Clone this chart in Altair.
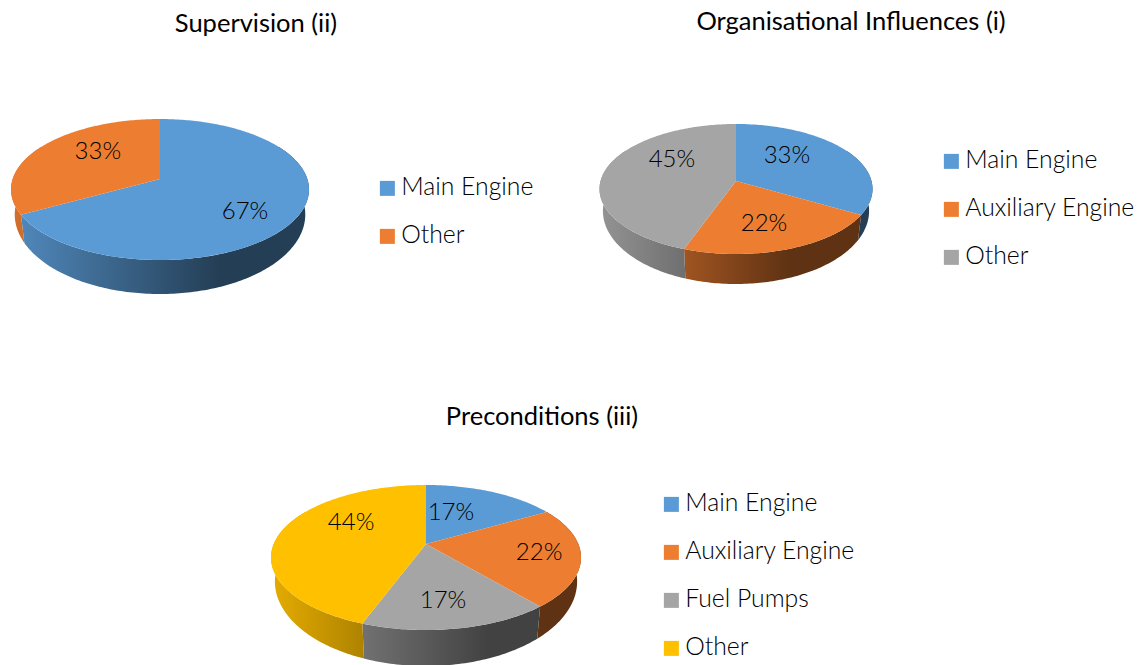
import math
import altair as alt
import pandas as pd

FONT = "Lato"
TEXT = "#000000"
BLUE, ORANGE, GRAY, YELLOW = "#5B9BD5", "#ED7D31", "#A5A5A5", "#FFC000"

sup_title = "Supervision (ii)"
sup_cats = ["Main Engine", "Other"]
sup_vals = [67, 33]
sup_text = ["67%", "33%"]
sup_cols = [BLUE, ORANGE]

org_title = "Organisational Influences (i)"
org_cats = ["Main Engine", "Auxiliary Engine", "Other"]
org_vals = [33.3, 22.2, 44.5]
org_text = ["33%", "22%", "45%"]
org_cols = [BLUE, ORANGE, GRAY]

pre_title = "Preconditions (iii)"
pre_cats = ["Main Engine", "Auxiliary Engine", "Fuel Pumps", "Other"]
pre_vals = [16.7, 22.2, 16.7, 44.4]
pre_text = ["17%", "22%", "17%", "44%"]
pre_cols = [BLUE, ORANGE, GRAY, YELLOW]


def scale_hex(c, f):
    r, g, b = [int(c[i:i + 2], 16) for i in (1, 3, 5)]
    return "#%02x%02x%02x" % (int(r * f), int(g * f), int(b * f))


def panel(title, cats, vals, texts, cols, geom, frame, size, title_shift, legend_xy,
          label_r, label_deg):
    cx, cy, half_w, back, front, d0, d1 = geom
    x0, x1, y0, y1 = frame
    k = (front - back) / (front + back)
    ry0 = back * (1 + k)
    rx0 = half_w * math.sqrt(1 - k * k)
    ellipse_mid = cy + (front - back) / 2
    ellipse_ry = (front + back) / 2

    def project(deg, f=1.0):
        a = math.radians(deg)
        t = -math.cos(a) * f
        w = 1 - k * t
        return cx + rx0 * math.sin(a) * f / w, cy + ry0 * t / w

    def lower(px, py):
        return (cx + (px - cx) * 0.975,
                py + d0 + d1 * (py - ellipse_mid) / ellipse_ry)

    xs = alt.X("x:Q", axis=None, scale=alt.Scale(domain=[x0, x1], nice=False, zero=False))
    ys = alt.Y("y:Q", axis=None, scale=alt.Scale(domain=[y1, y0], nice=False, zero=False))

    layers = []
    top_rows, label_rows = [], []
    start = 0.0
    total = sum(vals)
    for n, (cat, val, col) in enumerate(zip(cats, vals, cols)):
        end = start + 360.0 * val / total
        # top face
        rows = [(cx, cy)]
        steps = max(2, int(end - start) + 1)
        for j in range(steps + 1):
            rows.append(project(start + (end - start) * j / steps))
        rows.append((cx, cy))
        for i, (px, py) in enumerate(rows):
            top_rows.append({"cat": cat, "x": px, "y": py, "i": i})
        # side wall
        w0, w1 = max(start, 60), min(end, 300)
        if w1 > w0:
            steps = max(2, int(w1 - w0) + 1)
            upper = [project(w0 + (w1 - w0) * j / steps) for j in range(steps + 1)]
            low = [lower(*p) for p in reversed(upper)]
            poly = upper + low + [upper[0]]
            wall = pd.DataFrame([{"x": p[0], "y": p[1], "i": i} for i, p in enumerate(poly)])
            bx0, bx1 = wall.x.min(), wall.x.max()
            xl = cx - half_w

            def shade(px):
                p = (px - xl) / (2 * half_w)
                return 0.9 - 0.5 * p / 0.7 if p < 0.7 else 0.4

            offs = [0.0, 1.0]
            knee = xl + 0.7 * 2 * half_w
            if bx0 < knee < bx1:
                offs.insert(1, (knee - bx0) / (bx1 - bx0))
            stops = [alt.GradientStop(offset=o, color=scale_hex(col, max(0.4, shade(bx0 + o * (bx1 - bx0)))))
                     for o in offs]
            grad = alt.Gradient(gradient="linear", x1=0, x2=1, y1=0, y2=0, stops=stops)
            layers.append(alt.Chart(wall).mark_line(fill=grad, strokeWidth=0, clip=True).encode(
                x=xs, y=ys, order="i:Q"))
        # label
        lx, ly = project(label_deg[n], label_r[n])
        label_rows.append({"x": lx, "y": ly, "t": texts[n]})
        start = end

    color = alt.Color("cat:N", scale=alt.Scale(domain=cats, range=cols),
                      legend=alt.Legend(title=None, orient="none", legendX=legend_xy[0],
                                        legendY=legend_xy[1], symbolType="square", symbolSize=225,
                                        symbolOpacity=1, symbolStrokeWidth=0, labelFont=FONT,
                                        labelFontWeight=300, labelFontSize=24.75, labelColor=TEXT,
                                        labelLimit=300, rowPadding=22, labelOffset=1.5))
    top_df = pd.DataFrame(top_rows)
    fill = alt.Fill("cat:N", scale=alt.Scale(domain=cats, range=cols), legend=None)
    layers.append(alt.Chart(top_df).mark_line(strokeWidth=0, clip=True).encode(
        x=xs, y=ys, order="i:Q", fill=fill, detail="cat:N"))
    layers.append(alt.Chart(top_df[top_df.i == 0]).mark_square(opacity=0, size=1, clip=True).encode(
        x=xs, y=ys, color=color))
    layers.append(alt.Chart(pd.DataFrame(label_rows)).mark_text(
        font=FONT, fontWeight=300, fontSize=24, color=TEXT, clip=True).encode(x=xs, y=ys, text="t:N"))

    return alt.layer(*layers).properties(
        width=size[0], height=size[1],
        title=alt.TitleParams(title, font=FONT, fontSize=25.5, fontWeight=400, color="#000000",
                              anchor="middle", frame="group", dx=title_shift[0], dy=title_shift[1],
                              offset=4),
    ).resolve_scale(color="independent", fill="independent")


sup = panel(sup_title, sup_cats, sup_vals, sup_text, sup_cols,
            (160, 179, 149, 60, 81, 25, 9), (8, 560, 38, 404), (552, 366), (-28, 3), (367, 138),
            [0.70, 0.611], [129.7, 312.9])
org = panel(org_title, org_cats, org_vals, org_text, org_cols,
            (736, 181, 136.5, 57, 73, 22, 8), (560, 1140, 38, 404), (580, 366), (1, 1), (379, 111),
            [0.57, 0.65, 0.60], [43.9, 162.9, 304.8])
pre = panel(pre_title, pre_cats, pre_vals, pre_text, pre_cols,
            (426, 544, 155, 59, 86, 24, 12), (8, 1140, 427, 665), (1132, 238), (-32, 7), (651, 65),
            [0.515, 0.736, 0.714, 0.61], [20.3, 99.9, 172.2, 301.4])

chart = alt.vconcat(alt.hconcat(sup, org, spacing=0).resolve_scale(color="independent", fill="independent"),
                    pre, spacing=0).resolve_scale(color="independent", fill="independent").properties(
    padding={"top": 1, "left": 0, "right": 0, "bottom": 0}, background="#ffffff").configure_view(stroke=None)

chart.save("out.html", embed_options={"renderer": "svg", "actions": False})
